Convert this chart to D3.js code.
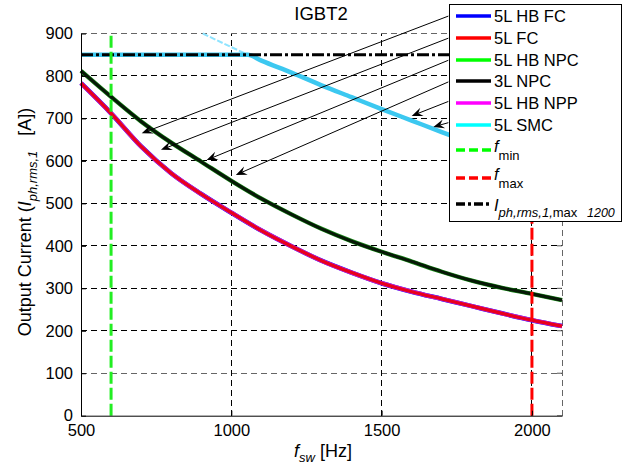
<!DOCTYPE html>
<html>
<head>
<meta charset="utf-8">
<script src="https://cdn.jsdelivr.net/npm/d3@7"></script>
<style>
  body { margin: 0; background: #fff; }
  svg { font-family: "Liberation Sans", Arial, Helvetica, sans-serif; }
  text { white-space: pre; }
</style>
</head>
<body>
<div id="chart"></div>
<script>
// switching frequency grid (Hz)
const freq = [500, 600, 700, 800, 900, 1000, 1100, 1200, 1300, 1400, 1500, 1600, 1700, 1800, 1900, 2000, 2100];

// output current per topology (A)
const hbFc  = [783, 712, 634, 571, 522, 478, 436, 399, 365, 337, 312, 292, 275, 258, 241, 225, 211];
const fc5   = [783, 712, 634, 571, 522, 478, 436, 399, 365, 337, 312, 292, 275, 258, 241, 225, 211];
const hbNpp = [783, 712, 634, 571, 522, 478, 436, 399, 365, 337, 312, 292, 275, 258, 241, 225, 211];
const hbNpc = [812, 751, 693, 643, 598, 553, 511, 474, 440, 411, 386, 363, 339, 318, 301, 287, 272];
const npc3  = [812, 751, 693, 643, 598, 553, 511, 474, 440, 411, 386, 363, 339, 318, 301, 287, 272];

// 5L SMC, limited at the current rating, and the faint part above it
const smcFreq = [500, 1055, 1100, 1200, 1300, 1400, 1500, 1600, 1700, 1800];
const smc     = [850, 850, 836, 808, 778, 750, 722, 695, 668, 642];
const smcUpperFreq = [905, 1000, 1055];
const smcUpper     = [900, 868, 850];

const fMin = 600, fMax = 2000, iMax = 850;

const xTicks = [500, 1000, 1500, 2000];
const yTicks = [0, 100, 200, 300, 400, 500, 600, 700, 800, 900];

// annotation arrows (from legend edge to curve), in data units [Hz, A]
const arrowFrom = [[1722, 941], [1722, 889], [1722, 837], [1722, 786], [1722, 740], [1722, 690]];
const arrowTo   = [[702, 665], [766, 626], [918, 602], [1015, 567], [1600, 706], [1672, 680]];

const legendNames = ["5L HB FC", "5L FC", "5L HB NPC", "3L NPC", "5L HB NPP", "5L SMC"];
const legendColors = ["#0000ff", "#ff0000", "#00ff00", "#000000", "#ff00ff", "#00ffff"];

const w = 642, h = 466;
const svg = d3.select("#chart").append("svg").attr("width", w).attr("height", h);

const x = d3.scaleLinear().domain([500, 2100]).range([81, 562]);
const y = d3.scaleLinear().domain([0, 900]).range([415.7, 33.5]);

// grid
const grid = svg.append("g").attr("stroke", "#000").attr("stroke-width", 1)
  .attr("stroke-dasharray", "6,4").attr("shape-rendering", "crispEdges");
grid.selectAll("line.h").data(yTicks.slice(1)).enter().append("line")
  .attr("x1", x(500)).attr("x2", x(2100))
  .attr("y1", d => y(d)).attr("y2", d => y(d))
  .attr("stroke", d => d === 900 || d === 100 ? "#666" : "#000");
grid.selectAll("line.v").data(xTicks.slice(1).concat([2100])).enter().append("line")
  .attr("x1", d => x(d)).attr("x2", d => x(d))
  .attr("y1", y(0)).attr("y2", y(900))
  .attr("stroke", d => d === 2100 ? "#666" : "#000");

const line = (xs, ys) => d3.line().curve(d3.curveMonotoneX)
  .x((d, i) => x(xs[i])).y((d, i) => y(ys[i]))(ys);

// SMC
svg.append("path").attr("d", line(smcUpperFreq, smcUpper))
  .attr("fill", "none").attr("stroke", "#8fe4ff").attr("stroke-width", 2)
  .attr("stroke-dasharray", "6,2");
svg.append("path").attr("d", line(smcFreq, smc))
  .attr("fill", "none").attr("stroke", "#3cc8f0").attr("stroke-width", 4.5);

// overlapping curves: bottom ones slightly wider
[[hbFc, "#0000ff", 4.6], [hbNpp, "#cc22cc", 4.4], [fc5, "#e8001c", 3.2],
 [hbNpc, "#1a8a1a", 4.4], [npc3, "#061a06", 3.2]].forEach(([vals, col, sw]) => {
  svg.append("path").attr("d", line(freq, vals))
    .attr("fill", "none").attr("stroke", col).attr("stroke-width", sw)
    .attr("stroke-linejoin", "round");
});

// current limit
svg.append("line")
  .attr("x1", x(500)).attr("x2", x(2100)).attr("y1", y(iMax)).attr("y2", y(iMax))
  .attr("stroke", "#000").attr("stroke-width", 3).attr("stroke-dasharray", "12,3,3,3");

// frequency limits
svg.append("line")
  .attr("x1", x(fMin)).attr("x2", x(fMin)).attr("y1", y(0)).attr("y2", y(900))
  .attr("stroke", "#22ee22").attr("stroke-width", 3).attr("stroke-dasharray", "12,4");
svg.append("line")
  .attr("x1", x(fMax)).attr("x2", x(fMax)).attr("y1", y(0)).attr("y2", y(900))
  .attr("stroke", "#ff0000").attr("stroke-width", 3).attr("stroke-dasharray", "12,4");

// axes
const yAxis = d3.axisLeft(y).tickValues(yTicks).tickFormat(d3.format("d"))
  .tickSizeInner(-5).tickSizeOuter(0).tickPadding(8);
const xAxis = d3.axisBottom(x).tickValues(xTicks).tickFormat(d3.format("d"))
  .tickSizeInner(-5).tickSizeOuter(0).tickPadding(9);
const gy = svg.append("g").attr("transform", `translate(${x(500)},0)`).call(yAxis);
const gx = svg.append("g").attr("transform", `translate(0,${y(0)})`).call(xAxis);
[gx, gy].forEach(g => {
  g.selectAll("text").attr("font-size", 16.5).attr("fill", "#000")
    .attr("font-family", "'Liberation Sans', Arial, sans-serif");
  g.select(".domain").attr("stroke", "#000");
  g.selectAll(".tick line").attr("stroke", "#000");
});
// right-edge ticks
svg.append("g").selectAll("line").data(yTicks).enter().append("line")
  .attr("x1", x(2100)).attr("x2", x(2100) - 5).attr("y1", d => y(d)).attr("y2", d => y(d))
  .attr("stroke", "#555");

// title
svg.append("text").attr("x", 321).attr("y", 20).attr("text-anchor", "middle")
  .attr("font-size", 18.5).text("IGBT2");

// x label
const xl = svg.append("text").attr("x", 323).attr("y", 457).attr("text-anchor", "middle")
  .attr("font-size", 18);
xl.append("tspan").attr("font-style", "italic").text("f");
xl.append("tspan").attr("font-style", "italic").attr("font-size", 13).attr("dy", 5).text("sw");
xl.append("tspan").attr("dy", -5).text(" [Hz]");

// y label
const yl = svg.append("text").attr("transform", "translate(31,222) rotate(-90)")
  .attr("text-anchor", "middle").attr("font-size", 18);
yl.append("tspan").text("Output Current (");
yl.append("tspan").attr("font-style", "italic").text("I");
yl.append("tspan").attr("font-style", "italic").attr("font-size", 13).attr("dy", 6).text("ph,rms,1");
yl.append("tspan").attr("dy", -6).text("   [A])");

// arrows
const head = "M0,0 L-11,-4.5 L-7,0 L-11,4.5 Z";
arrowFrom.forEach((from, i) => {
  const x1 = x(from[0]), y1 = y(from[1]), x2 = x(arrowTo[i][0]), y2 = y(arrowTo[i][1]);
  const a = Math.atan2(y2 - y1, x2 - x1);
  svg.append("line").attr("x1", x1).attr("y1", y1)
    .attr("x2", x2 - 6 * Math.cos(a)).attr("y2", y2 - 6 * Math.sin(a))
    .attr("stroke", "#000").attr("stroke-width", 1);
  svg.append("path").attr("d", head).attr("fill", "#000")
    .attr("transform", `translate(${x2},${y2}) rotate(${a * 180 / Math.PI})`);
});

// legend
const lg = svg.append("g");
lg.append("rect").attr("x", 449.5).attr("y", 4.5).attr("width", 172).attr("height", 217)
  .attr("fill", "#fff").attr("stroke", "#000").attr("stroke-width", 1);
const rowY = [16, 38, 60, 81, 103, 125, 150, 178, 204];
legendNames.forEach((name, i) => {
  lg.append("line").attr("x1", 456).attr("x2", 491).attr("y1", rowY[i]).attr("y2", rowY[i])
    .attr("stroke", legendColors[i]).attr("stroke-width", 3.5);
  lg.append("text").attr("x", 494).attr("y", rowY[i] + 6).attr("font-size", 16.5).text(name);
});
const dashEntries = [
  {color: "#00ff00", dash: "9,4", main: "f", sub: "min"},
  {color: "#ff0000", dash: "9,4", main: "f", sub: "max"}
];
dashEntries.forEach((e, k) => {
  const yy = rowY[6 + k];
  lg.append("line").attr("x1", 456).attr("x2", 491).attr("y1", yy).attr("y2", yy)
    .attr("stroke", e.color).attr("stroke-width", 3.5).attr("stroke-dasharray", e.dash);
  const t = lg.append("text").attr("x", 494).attr("y", yy + 2).attr("font-size", 16.5);
  t.append("tspan").attr("font-style", "italic").text(e.main);
  t.append("tspan").attr("font-size", 13).attr("dy", 8).text(e.sub);
});
{
  const yy = rowY[8];
  lg.append("line").attr("x1", 456).attr("x2", 491).attr("y1", yy).attr("y2", yy)
    .attr("stroke", "#000").attr("stroke-width", 3.5).attr("stroke-dasharray", "9,3,3,3");
  const t = lg.append("text").attr("x", 494).attr("y", yy + 7).attr("font-size", 16.5);
  t.append("tspan").attr("font-style", "italic").text("I");
  t.append("tspan").attr("font-style", "italic").attr("font-size", 13).attr("dy", 6).text("ph,rms,1,");
  t.append("tspan").attr("font-size", 13).text("max");
  t.append("tspan").attr("font-style", "italic").attr("font-size", 12.5).attr("x", 587).text("1200");
}
</script>
</body>
</html>
